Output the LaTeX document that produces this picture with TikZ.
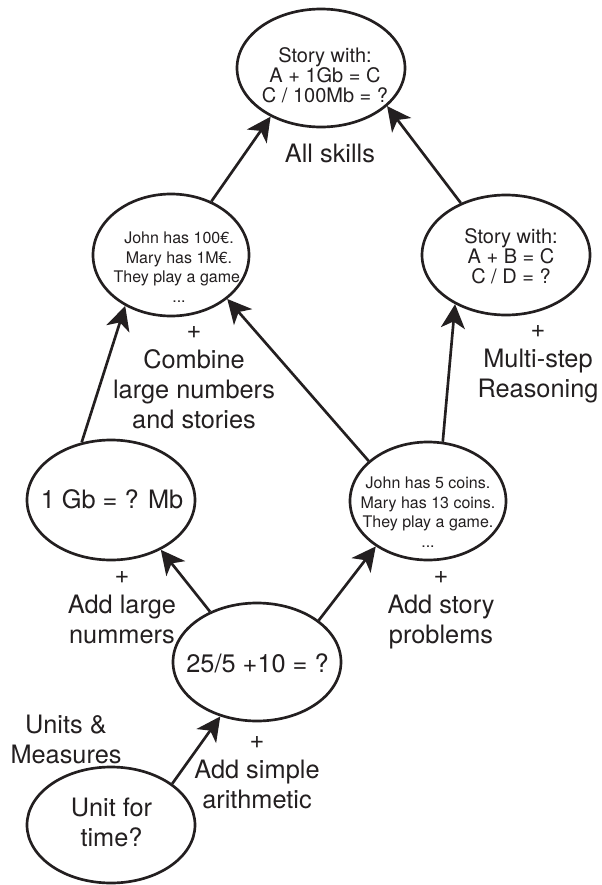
\documentclass[tikz,border=0pt]{standalone}
\usepackage{fontspec}
\setmainfont{TeX Gyre Heros}
\usetikzlibrary{shapes.geometric,arrows.meta}
\definecolor{ink}{RGB}{35,31,32}
\begin{document}
\begin{tikzpicture}[x=0.75pt,y=-0.75pt,
  oval/.style={ellipse,draw=ink,line width=2pt,inner sep=0pt},
  bigtxt/.style={align=center,anchor=base,text=ink,font=\fontsize{19}{22.5}\selectfont},
  midtxt/.style={align=center,anchor=base,text=ink,font=\fontsize{15}{15}\selectfont},
  smalltxt/.style={align=center,anchor=base,text=ink,font=\fontsize{12}{14.6}\selectfont},
  link/.style={draw=ink,line width=2pt,-{Stealth[length=18pt,width=18pt,inset=5pt]}}]
\useasboundingbox (0,0) rectangle (601,885);

% ellipses
\node[oval,minimum width=126pt,minimum height=88.5pt] (top) at (321,68) {};
\node[oval,minimum width=117pt,minimum height=91.5pt] (lm) at (171,255) {};
\node[oval,minimum width=126pt,minimum height=90pt] (rm) at (506,255) {};
\node[oval,minimum width=117pt,minimum height=88.5pt] (rl) at (428,501) {};
\node[oval,minimum width=126pt,minimum height=90pt] (ll) at (111,500) {};
\node[oval,minimum width=126pt,minimum height=88.5pt] (bc) at (257,662) {};
\node[oval,minimum width=126pt,minimum height=87pt] (bl) at (111,825) {};

% texts inside ellipses (base = last line)
\node[midtxt] (toptxt) at (325,102) {Story with:\\A + 1Gb = C\\C / 100Mb = ?};
\node[smalltxt] (lmtxt) at (179,302) {John has 100€.\\Mary has 1M€.\\They play a game.\\...};
\node[midtxt] (rmtxt) at (511,283) {Story with:\\A + B = C\\C / D = ?};
\node[smalltxt] (rltxt) at (428,547) {John has 5 coins.\\Mary has 13 coins.\\They play a game.\\...};
\node[bigtxt] (lltxt) at (112,508) {1 Gb = ? Mb};
\node[bigtxt] (bctxt) at (257.5,672) {25/5 +10 = ?};
\node[bigtxt] (bltxt) at (111.5,846) {Unit for\\time?};

% labels
\node[bigtxt] (lblall) at (330,162) {All skills};
\node[bigtxt] (lblcomb) at (194,428) {+\\Combine\\large numbers\\and stories};
\node[bigtxt] (lblmulti) at (538,397) {+\\Multi-step\\Reasoning};
\node[bigtxt] (lbllarge) at (122,643) {+\\Add large\\nummers};
\node[bigtxt] (lblstory) at (441,643) {+\\Add story\\problems};
\node[bigtxt] (lblunits) at (66,763) {Units \&\\Measures};
\node[bigtxt] (lblsimple) at (257,808) {+\\Add simple\\arithmetic};

% connectors
\draw[link] (bl.34.5) -- (bc.236);
\draw[link] (bc.133) -- (ll.315);
\draw[link] (bc.34) -- (rl.221);
\draw[link] (ll.117) -- (lm.228);
\draw[link] (rl.146) -- (lm.322);
\draw[link] (rl.76) -- (rm.224);
\draw[link] (lm.53) -- (top.224);
\draw[link] (rm.131) -- (top.330);
\end{tikzpicture}
\end{document}
